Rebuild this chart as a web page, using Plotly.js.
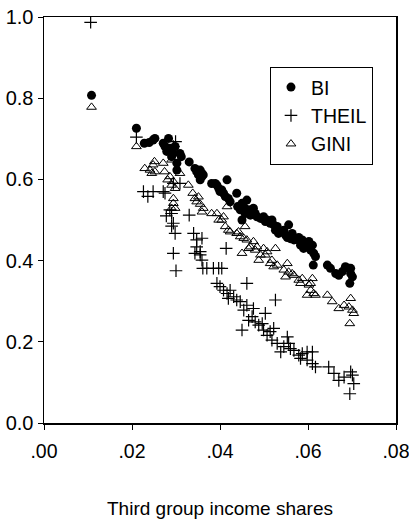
<!DOCTYPE html>
<html>
<head>
<meta charset="utf-8">
<script src="https://cdn.plot.ly/plotly-3.0.1.min.js"></script>
<style>html,body{margin:0;padding:0;background:#fff;}#chart{width:409px;height:519px;}</style>
</head>
<body>
<div id="chart"></div>
<script>
// BI (filled circles)
const biX = [0.0108,0.0210,0.0228,0.0239,0.0248,0.0252,0.0271,0.0275,0.0283,0.0279,0.0286,0.0290,0.0294,0.0298,0.0302,0.0302,0.0309,0.0312,
  0.0330,0.0343,0.0347,0.0351,0.0355,0.0359,0.0359,0.0355,0.0362,
  0.0381,0.0389,0.0393,0.0397,0.0400,0.0404,0.0416,0.0408,0.0412,0.0419,0.0423,
  0.0438,0.0440,0.0446,0.0450,0.0454,0.0461,0.0450,0.0457,0.0465,0.0469,0.0476,0.0480,0.0484,0.0492,0.0499,0.0503,0.0507,0.0514,0.0518,0.0522,0.0526,0.0530,0.0533,
  0.0545,0.0549,0.0553,0.0556,0.0560,0.0564,0.0568,0.0575,0.0579,0.0583,0.0587,0.0590,0.0598,0.0602,0.0606,0.0610,0.0612,0.0613,0.0617,
  0.0644,0.0651,0.0663,0.0670,0.0678,0.0685,0.0693,0.0697,0.0695,0.0701,0.0697];
const biY = [0.807,0.726,0.689,0.691,0.697,0.701,0.689,0.681,0.701,0.669,0.677,0.656,0.664,0.681,0.640,0.623,0.664,0.656,
  0.643,0.627,0.619,0.611,0.623,0.607,0.615,0.599,0.611,
  0.590,0.590,0.586,0.578,0.570,0.574,0.599,0.566,0.558,0.553,0.545,
  0.566,0.533,0.525,0.541,0.533,0.549,0.500,0.516,0.525,0.512,0.529,0.516,0.508,0.504,0.508,0.496,0.500,0.492,0.500,0.488,0.475,0.484,0.467,
  0.475,0.463,0.457,0.488,0.454,0.467,0.451,0.452,0.457,0.438,0.451,0.430,0.442,0.447,0.426,0.438,0.389,0.418,0.410,
  0.389,0.381,0.368,0.364,0.373,0.385,0.381,0.368,0.344,0.360,0.381];

// THEIL (plus signs)
const theilX = [0.0106,0.0210,0.0294,0.0299,0.0226,0.0236,0.0248,0.0271,0.0275,0.0309,0.0294,
  0.0278,0.0290,0.0286,0.0294,0.0290,0.0298,0.0294,0.0300,0.0330,
  0.0340,0.0347,0.0343,0.0347,0.0355,0.0359,0.0355,0.0359,0.0361,0.0370,0.0385,0.0397,0.0404,0.0414,
  0.0393,0.0400,0.0408,0.0416,0.0423,0.0419,0.0431,0.0438,0.0446,0.0461,0.0450,0.0454,0.0461,0.0465,0.0473,0.0476,0.0480,0.0488,0.0496,0.0503,0.0499,0.0507,0.0514,0.0518,0.0522,0.0526,0.0530,0.0538,0.0545,0.0553,0.0556,0.0560,0.0568,0.0579,0.0583,0.0587,0.0598,0.0610,0.0598,0.0610,0.0617,
  0.0647,0.0659,0.0670,0.0682,0.0697,0.0701,0.0695,0.0704];
const theilY = [0.987,0.704,0.681,0.693,0.570,0.558,0.570,0.570,0.566,0.590,0.590,
  0.510,0.516,0.525,0.492,0.485,0.467,0.418,0.375,0.512,
  0.467,0.451,0.418,0.434,0.422,0.455,0.414,0.401,0.381,0.381,0.381,0.381,0.381,0.430,
  0.344,0.336,0.327,0.319,0.327,0.307,0.311,0.303,0.299,0.344,0.229,0.278,0.290,0.253,0.262,0.282,0.249,0.241,0.245,0.270,0.229,0.216,0.225,0.204,0.233,0.303,0.196,0.175,0.188,0.212,0.196,0.183,0.179,0.167,0.159,0.171,0.175,0.175,0.155,0.146,0.138,
  0.138,0.122,0.105,0.113,0.126,0.118,0.072,0.097];

// GINI (open triangles)
const giniX = [0.0108,0.0210,0.0229,0.0241,0.0248,0.0251,0.0245,0.0252,
  0.0271,0.0274,0.0281,0.0286,0.0290,0.0294,0.0290,0.0298,0.0294,0.0294,0.0298,0.0290,0.0309,
  0.0328,0.0338,0.0343,0.0347,0.0351,0.0355,0.0359,0.0362,
  0.0381,0.0393,0.0397,0.0404,0.0408,0.0412,0.0416,0.0419,0.0423,
  0.0438,0.0442,0.0446,0.0450,0.0454,0.0457,0.0461,0.0465,0.0469,0.0476,0.0480,0.0484,0.0488,0.0492,0.0499,0.0503,0.0507,0.0514,0.0518,0.0522,0.0526,0.0530,
  0.0545,0.0549,0.0553,0.0556,0.0564,0.0568,0.0579,0.0583,0.0587,0.0598,0.0602,0.0606,0.0610,0.0613,0.0617,0.0606,
  0.0644,0.0655,0.0670,0.0682,0.0693,0.0697,0.0695,0.0701,0.0704];
const giniY = [0.778,0.681,0.627,0.623,0.636,0.644,0.615,0.619,
  0.640,0.619,0.599,0.607,0.586,0.595,0.648,0.578,0.553,0.541,0.529,0.529,0.615,
  0.586,0.566,0.553,0.545,0.557,0.539,0.520,0.529,
  0.516,0.516,0.500,0.500,0.508,0.484,0.533,0.475,0.471,
  0.467,0.471,0.459,0.418,0.455,0.484,0.451,0.430,0.434,0.447,0.426,0.434,0.401,0.414,0.430,0.414,0.422,0.393,0.401,0.385,0.430,0.389,
  0.377,0.360,0.393,0.372,0.368,0.364,0.352,0.344,0.356,0.315,0.340,0.327,0.356,0.319,0.315,0.344,
  0.315,0.299,0.282,0.290,0.286,0.307,0.245,0.278,0.270];

const xTickVals = [0, 0.02, 0.04, 0.06, 0.08];
const xTickText = ['.00', '.02', '.04', '.06', '.08'];
const yTickVals = [0, 0.2, 0.4, 0.6, 0.8, 1.0];
const yTickText = ['0.0', '0.2', '0.4', '0.6', '0.8', '1.0'];

const FONT = '"Liberation Sans", Arial, sans-serif';

const traces = [
  {x: biX, y: biY, name: 'BI', type: 'scatter', mode: 'markers',
   marker: {symbol: 'circle', size: 9, color: '#000'}},
  {x: theilX, y: theilY, name: 'THEIL', type: 'scatter', mode: 'markers',
   marker: {symbol: 'cross-thin-open', size: 9, color: '#000', line: {color: '#000', width: 1.2}}},
  {x: giniX, y: giniY, name: 'GINI', type: 'scatter', mode: 'markers',
   marker: {symbol: 'triangle-up-open', size: 8.5, color: '#000', line: {color: '#000', width: 1}}}
];

const layout = {
  width: 409, height: 519,
  margin: {l: 44, r: 13, t: 17, b: 96},
  paper_bgcolor: '#fff', plot_bgcolor: '#fff',
  font: {family: FONT, color: '#000', size: 20},
  showlegend: true,
  legend: {x: 0.642, y: 0.877, xanchor: 'left', yanchor: 'top',
           bordercolor: '#000', borderwidth: 1, bgcolor: '#fff',
           font: {family: FONT, size: 19.5, color: '#000'}},
  xaxis: {range: [0, 0.08], tickvals: xTickVals, ticktext: xTickText,
          showgrid: false, zeroline: false, showline: true, mirror: true,
          linecolor: '#000', linewidth: 1.5, ticks: 'outside', ticklen: 5, tickcolor: '#000',
          tickfont: {family: FONT, size: 19.5, color: '#000'},
          ticklabelstandoff: 5,
          ticklabeloverflow: 'allow',
          automargin: false,
          title: {text: 'Third group income shares', font: {family: FONT, size: 19, color: '#000'}, standoff: 41}},
  yaxis: {range: [0, 1.0], tickvals: yTickVals, ticktext: yTickText,
          showgrid: false, zeroline: false, showline: true, mirror: true,
          linecolor: '#000', linewidth: 1.5, ticks: 'outside', ticklen: 5, tickcolor: '#000',
          tickfont: {family: FONT, size: 20, color: '#000'},
          ticklabeloverflow: 'allow',
          automargin: false}
};

Plotly.newPlot('chart', traces, layout, {displayModeBar: false, staticPlot: true});
</script>
</body>
</html>
